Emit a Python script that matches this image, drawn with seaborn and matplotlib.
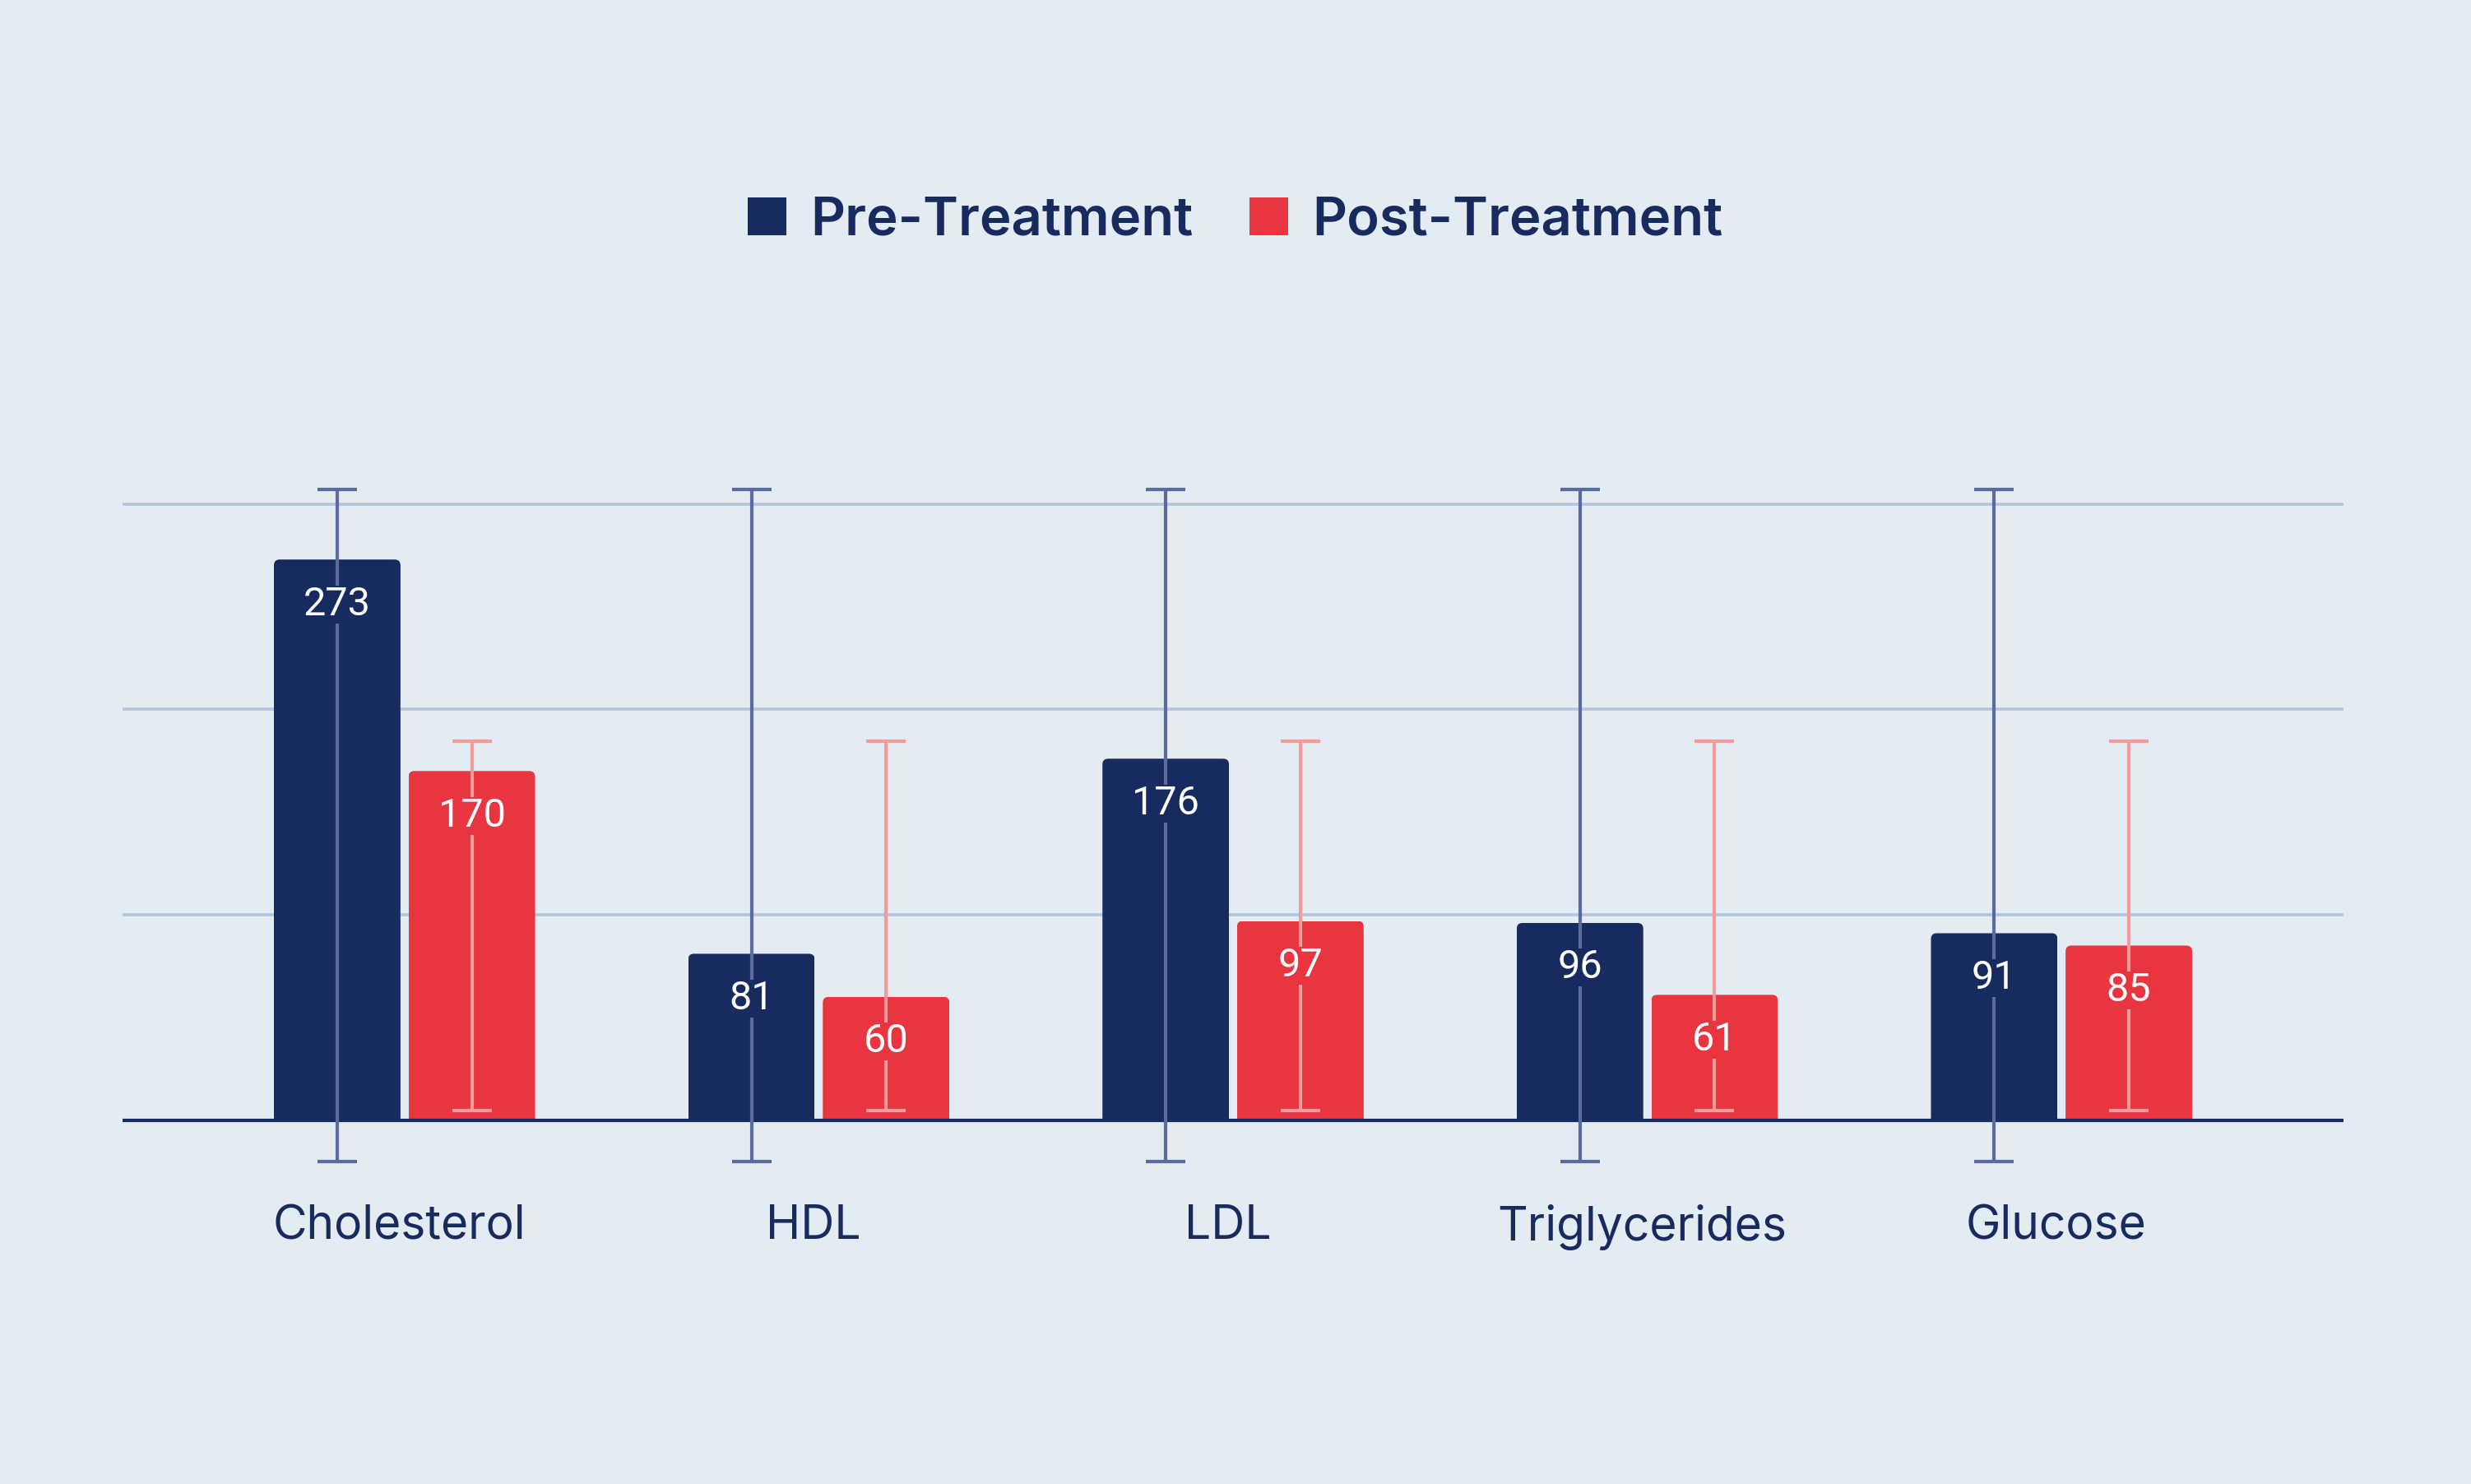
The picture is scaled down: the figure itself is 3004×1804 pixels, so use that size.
import numpy as np
import pandas as pd
import matplotlib
matplotlib.use("Agg")
import matplotlib.pyplot as plt
import matplotlib.transforms as mtransforms
import seaborn as sns
from matplotlib.patches import Patch, FancyBboxPatch

# ---- data ----
categories = ["Cholesterol", "HDL", "LDL", "Triglycerides", "Glucose"]
series_names = ["Pre-Treatment", "Post-Treatment"]
pre_values = [273, 81, 176, 96, 91]
post_values = [170, 60, 97, 61, 85]
gridline_values = [100, 200, 300]

# ---- style ----
BG = "#e3ebf3"
PRE = "#172b5e"
POST = "#e8353f"
PRE_ERR = "#5a6c9e"
POST_ERR = "#f39b9b"
GRID = "#b3c6dd"
TEXT = "#172b5e"

sns.set_theme(style="white")
plt.rcParams["font.family"] = ["Roboto", "DejaVu Sans"]

df = pd.DataFrame({
    "category": categories * 2,
    "series": [series_names[0]] * len(categories) + [series_names[1]] * len(categories),
    "value": pre_values + post_values,
})

fig = plt.figure(figsize=(15.02, 9.02), dpi=200, facecolor=BG)
ax = fig.add_axes([0.0497, 0.2037, 0.8986, 0.4843])
ax.set_facecolor(BG)

sns.barplot(data=df, x="category", y="value", hue="series", order=categories,
            hue_order=series_names, palette=[PRE, POST], saturation=1,
            width=0.65, gap=0.06, errorbar=None, legend=False, ax=ax,
            zorder=3, linewidth=0)

ax.set_ylim(-30, 320)
ax.set_xlim(-0.68, 4.68)

# rounded top corners via clip paths
p0 = ax.transData.transform((0, 0))
p1 = ax.transData.transform((1, 1))
sx, sy = p1[0] - p0[0], p1[1] - p0[1]
r_px = 7.0
for cont in ax.containers:
    for b in cont:
        x, w, h = b.get_x(), b.get_width(), b.get_height()
        clip = FancyBboxPatch((x, -20), w, h + 20,
                              boxstyle=f"round,pad=0,rounding_size={r_px / sx}",
                              mutation_aspect=sx / sy, transform=ax.transData)
        b.set_clip_path(clip)

# error bars: series mean +/- 2 SD, drawn on each bar
for cont, vals, ecol, bcol in zip(ax.containers, [pre_values, post_values],
                                  [PRE_ERR, POST_ERR], [PRE, POST]):
    v = np.array(vals, dtype=float)
    m = v.mean()
    s = v.std(ddof=1)
    xs = [b.get_x() + b.get_width() / 2 for b in cont]
    ax.errorbar(xs, [m] * len(xs), yerr=2 * s, fmt="none", ecolor=ecol,
                elinewidth=1.5, capsize=8.6, capthick=1.5, zorder=4, clip_on=False)
    for b, val in zip(cont, vals):
        ax.annotate(f"{val}", (b.get_x() + b.get_width() / 2, val),
                    xytext=(0, -19.6), textcoords="offset points",
                    ha="center", va="center", color="white", fontsize=17.5,
                    zorder=5,
                    bbox=dict(boxstyle="square,pad=0", fc=bcol, ec="none"))

ax.axhline(0, color=PRE, lw=1.5, zorder=3.5)

ax.set_yticks(gridline_values)
ax.yaxis.grid(True, color=GRID, lw=1.3, zorder=0)
ax.xaxis.grid(False)
ax.set_axisbelow(True)
for sp in ax.spines.values():
    sp.set_visible(False)
ax.tick_params(axis="y", length=0, labelleft=False)
ax.tick_params(axis="x", length=0, pad=10, labelsize=20.5, labelcolor=TEXT)
shift = mtransforms.ScaledTranslation(-2.4 / 72, 0, fig.dpi_scale_trans)
for lab in ax.get_xticklabels():
    lab.set_fontfamily(["Inter", "DejaVu Sans"])
    lab.set_transform(lab.get_transform() + shift)
ax.set_xlabel("")
ax.set_ylabel("")

handles = [Patch(facecolor=PRE, edgecolor="none", label=series_names[0]),
           Patch(facecolor=POST, edgecolor="none", label=series_names[1])]
fig.legend(handles=handles, loc="center", bbox_to_anchor=(0.5, 0.851), ncol=2,
           frameon=False, prop={"family": ["Inter", "DejaVu Sans"], "size": 23.5, "weight": "semibold"},
           handlelength=0.72, handleheight=0.72, handletextpad=0.45,
           columnspacing=1.05, labelcolor=TEXT)

fig.savefig("out.png", dpi=200, facecolor=BG)
